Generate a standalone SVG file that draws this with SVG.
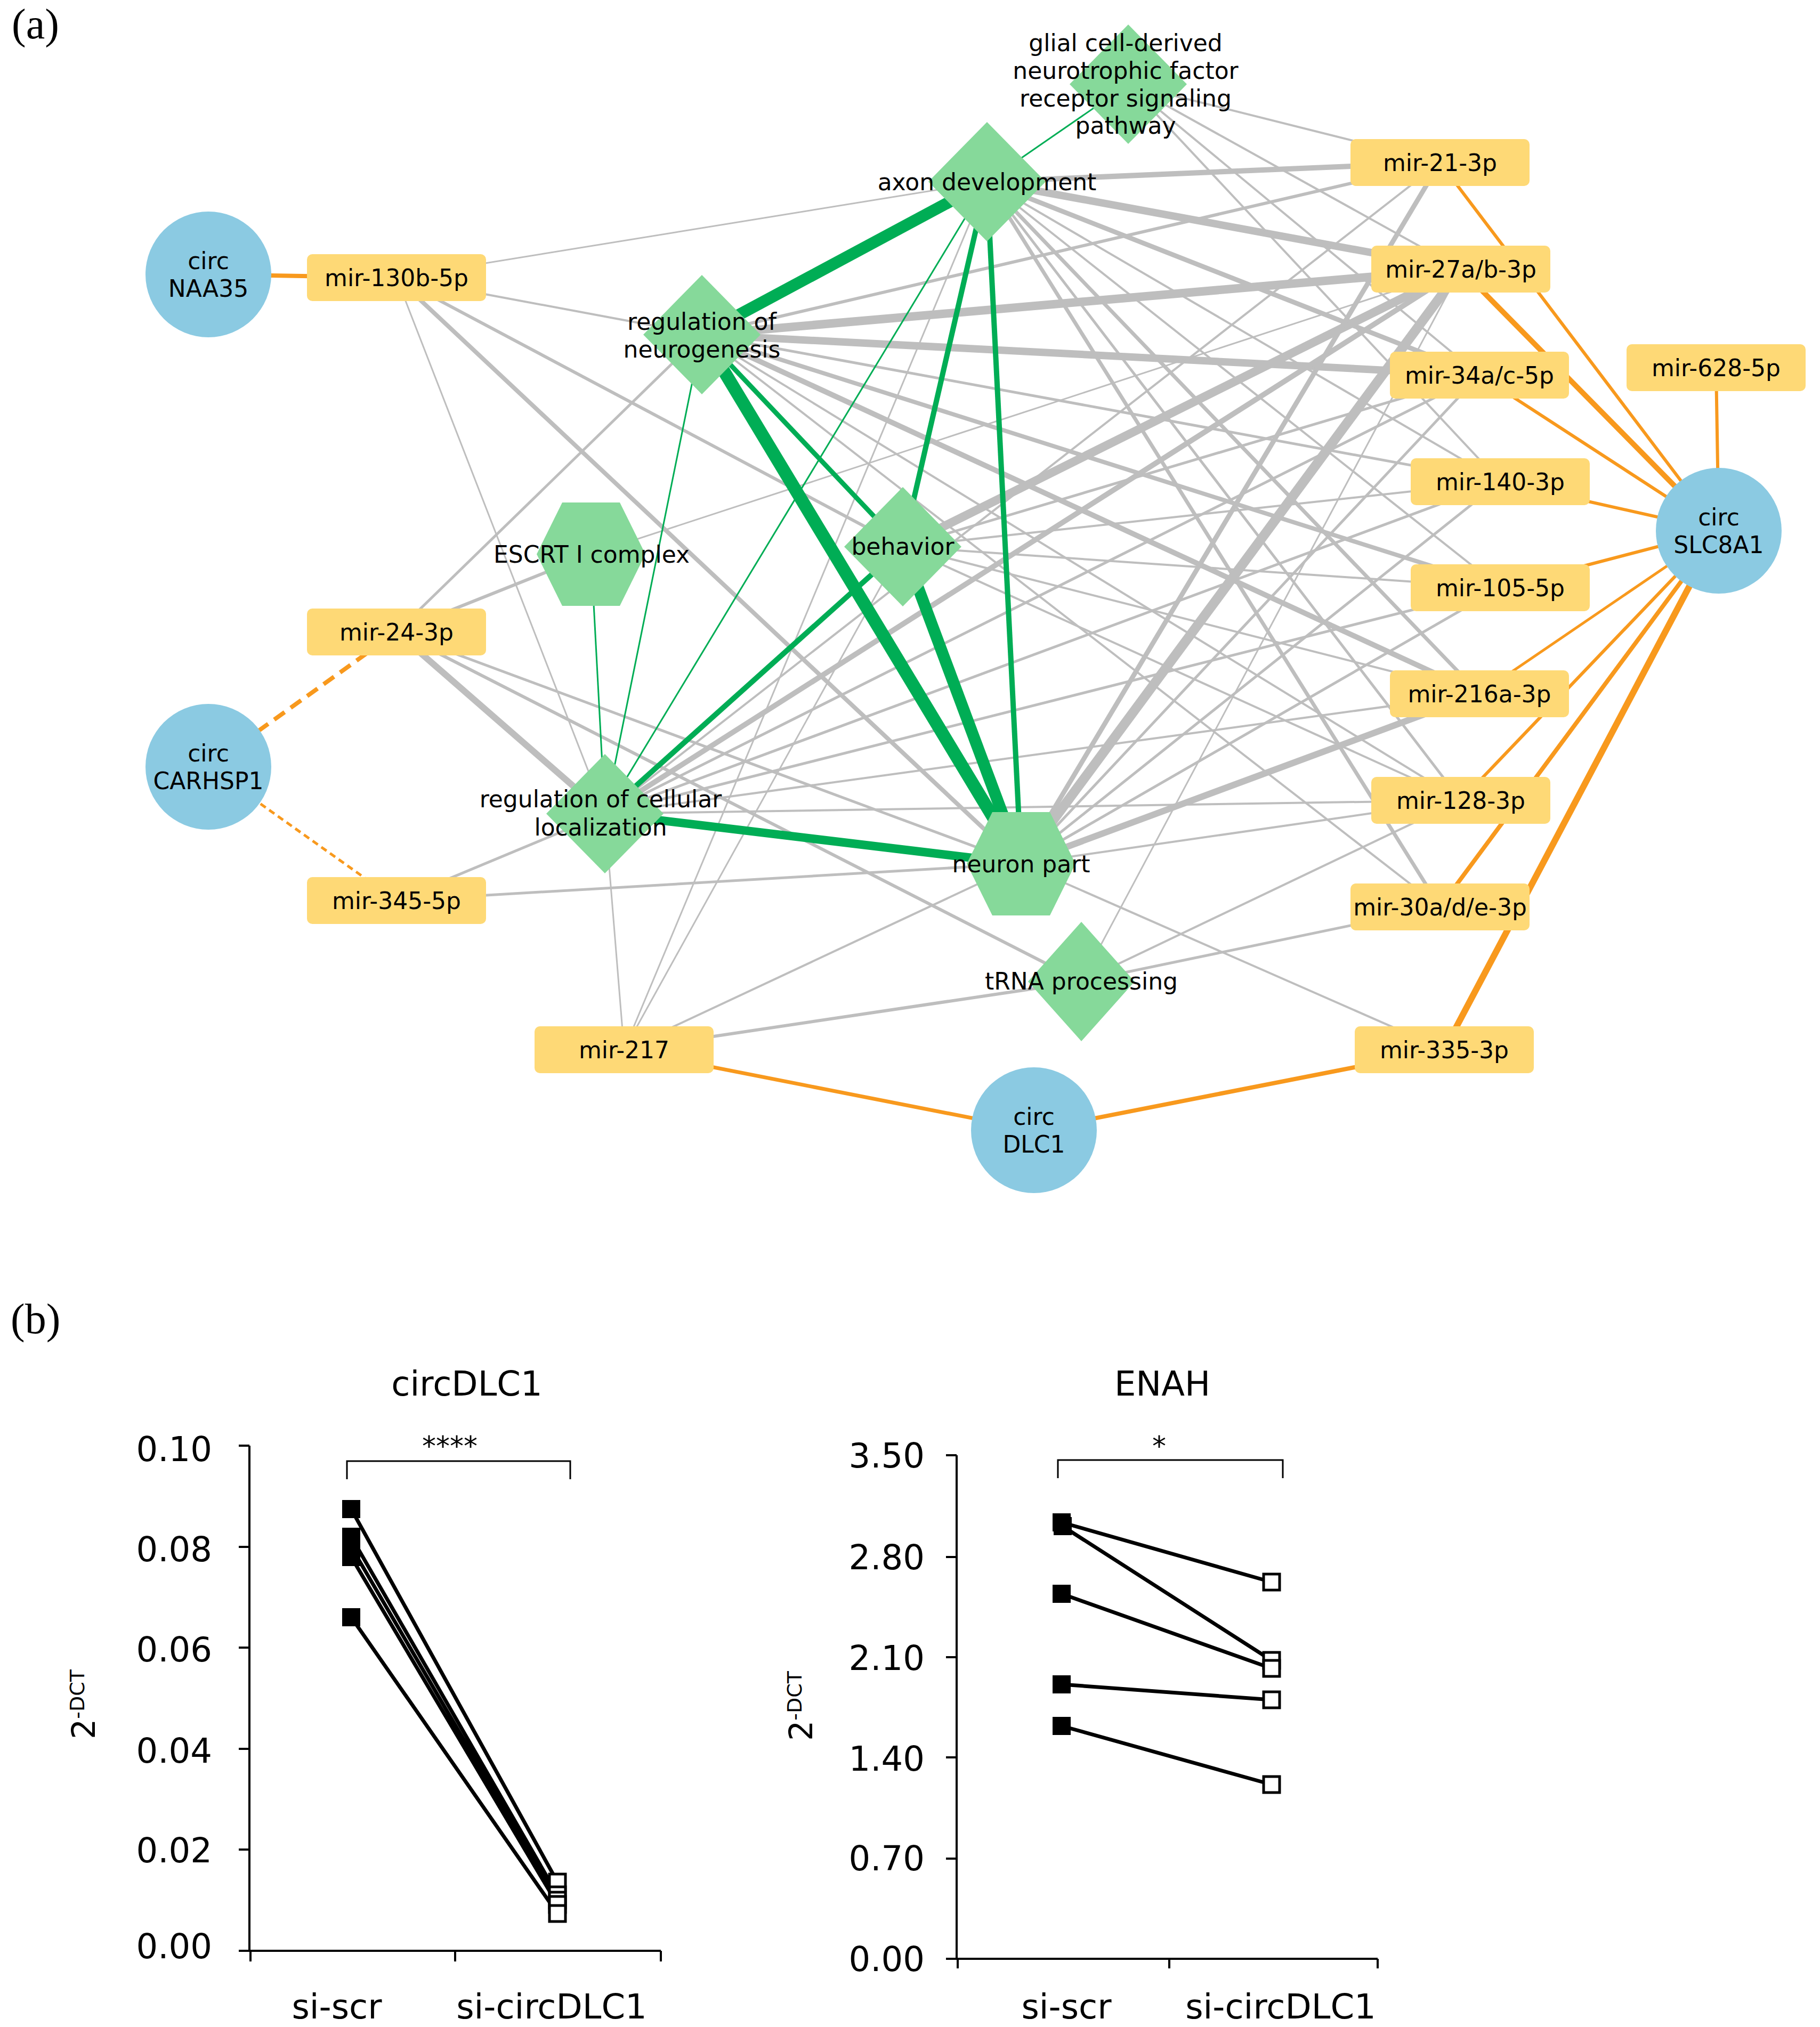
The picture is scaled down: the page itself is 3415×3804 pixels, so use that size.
<svg xmlns="http://www.w3.org/2000/svg" width="3415" height="3804" viewBox="0 0 3415 3804">
<style>
.g{stroke:#BEBEBE;fill:none}
.gr{stroke:#00AD55;fill:none}
.o{stroke:#F8991D;fill:none}
.circ{fill:#8BCAE2}
.mir{fill:#FED976}
.go{fill:#86D99A}
.lbl{font-family:"DejaVu Sans",sans-serif;font-size:44px;text-anchor:middle;fill:#000}
.ax{stroke:#000;stroke-width:4;fill:none}
.dl{stroke:#000;stroke-width:7;fill:none}
.ct{font-family:"DejaVu Sans",sans-serif;font-size:64px;fill:#000}
.yl{font-family:"DejaVu Sans",sans-serif;font-size:64px;fill:#000;text-anchor:end}
.pl{font-family:"Liberation Serif",serif;font-size:80px;fill:#000}
</style>
<rect width="3415" height="3804" fill="#fff"/>
<text class="pl" x="22" y="72">(a)</text>
<g id="connectors">
<g id="gray-edges" class="g">
<line x1="1852" y1="341" x2="744" y2="521" stroke-width="3"/>
<line x1="1852" y1="341" x2="2702" y2="305" stroke-width="10"/>
<line x1="1852" y1="341" x2="2741" y2="505" stroke-width="14"/>
<line x1="1852" y1="341" x2="2776" y2="704" stroke-width="9"/>
<line x1="1852" y1="341" x2="2815" y2="904" stroke-width="4"/>
<line x1="1852" y1="341" x2="2815" y2="1103" stroke-width="4"/>
<line x1="1852" y1="341" x2="2776" y2="1302" stroke-width="7"/>
<line x1="1852" y1="341" x2="2741" y2="1502" stroke-width="5"/>
<line x1="1852" y1="341" x2="2702" y2="1702" stroke-width="7"/>
<line x1="1852" y1="341" x2="1171" y2="1970" stroke-width="3"/>
<line x1="2117" y1="158" x2="2702" y2="305" stroke-width="4"/>
<line x1="2117" y1="158" x2="2741" y2="505" stroke-width="4"/>
<line x1="2117" y1="158" x2="2776" y2="704" stroke-width="4"/>
<line x1="2117" y1="158" x2="2815" y2="904" stroke-width="4"/>
<line x1="1317" y1="628" x2="744" y2="521" stroke-width="4"/>
<line x1="1317" y1="628" x2="2702" y2="305" stroke-width="6"/>
<line x1="1317" y1="628" x2="2741" y2="505" stroke-width="16"/>
<line x1="1317" y1="628" x2="2776" y2="704" stroke-width="14"/>
<line x1="1317" y1="628" x2="2815" y2="904" stroke-width="5"/>
<line x1="1317" y1="628" x2="2815" y2="1103" stroke-width="8"/>
<line x1="1317" y1="628" x2="2776" y2="1302" stroke-width="10"/>
<line x1="1317" y1="628" x2="2741" y2="1502" stroke-width="4"/>
<line x1="1317" y1="628" x2="2702" y2="1702" stroke-width="4"/>
<line x1="1317" y1="628" x2="744" y2="1186" stroke-width="5"/>
<line x1="1694" y1="1026" x2="744" y2="521" stroke-width="6"/>
<line x1="1694" y1="1026" x2="2741" y2="505" stroke-width="16"/>
<line x1="1694" y1="1026" x2="2776" y2="704" stroke-width="5"/>
<line x1="1694" y1="1026" x2="2815" y2="904" stroke-width="4"/>
<line x1="1694" y1="1026" x2="2815" y2="1103" stroke-width="4"/>
<line x1="1694" y1="1026" x2="2776" y2="1302" stroke-width="4"/>
<line x1="1694" y1="1026" x2="2741" y2="1502" stroke-width="4"/>
<line x1="1694" y1="1026" x2="1171" y2="1970" stroke-width="3"/>
<line x1="1109" y1="1040" x2="744" y2="1186" stroke-width="6"/>
<line x1="1109" y1="1040" x2="2741" y2="505" stroke-width="3"/>
<line x1="1135" y1="1527" x2="744" y2="521" stroke-width="3"/>
<line x1="1135" y1="1527" x2="744" y2="1186" stroke-width="12"/>
<line x1="1135" y1="1527" x2="744" y2="1690" stroke-width="5"/>
<line x1="1135" y1="1527" x2="1171" y2="1970" stroke-width="3"/>
<line x1="1135" y1="1527" x2="2741" y2="505" stroke-width="10"/>
<line x1="1135" y1="1527" x2="2776" y2="704" stroke-width="5"/>
<line x1="1135" y1="1527" x2="2702" y2="305" stroke-width="4"/>
<line x1="1135" y1="1527" x2="2815" y2="904" stroke-width="5"/>
<line x1="1135" y1="1527" x2="2815" y2="1103" stroke-width="5"/>
<line x1="1135" y1="1527" x2="2776" y2="1302" stroke-width="4"/>
<line x1="1135" y1="1527" x2="2741" y2="1502" stroke-width="4"/>
<line x1="1916" y1="1621" x2="744" y2="521" stroke-width="8"/>
<line x1="1916" y1="1621" x2="744" y2="1186" stroke-width="5"/>
<line x1="1916" y1="1621" x2="744" y2="1690" stroke-width="5"/>
<line x1="1916" y1="1621" x2="2741" y2="505" stroke-width="18"/>
<line x1="1916" y1="1621" x2="2702" y2="305" stroke-width="9"/>
<line x1="1916" y1="1621" x2="2776" y2="704" stroke-width="5"/>
<line x1="1916" y1="1621" x2="2815" y2="904" stroke-width="5"/>
<line x1="1916" y1="1621" x2="2815" y2="1103" stroke-width="5"/>
<line x1="1916" y1="1621" x2="2776" y2="1302" stroke-width="12"/>
<line x1="1916" y1="1621" x2="2741" y2="1502" stroke-width="4"/>
<line x1="1916" y1="1621" x2="2710" y2="1970" stroke-width="4"/>
<line x1="1916" y1="1621" x2="1171" y2="1970" stroke-width="4"/>
<line x1="2029" y1="1842" x2="1171" y2="1970" stroke-width="6"/>
<line x1="2029" y1="1842" x2="744" y2="1186" stroke-width="6"/>
<line x1="2029" y1="1842" x2="2702" y2="1702" stroke-width="5"/>
<line x1="2029" y1="1842" x2="2741" y2="1502" stroke-width="4"/>
<line x1="2029" y1="1842" x2="2741" y2="505" stroke-width="3"/>
</g>
<g id="green-edges" class="gr">
<line x1="1852" y1="341" x2="2117" y2="158" stroke-width="3"/>
<line x1="1852" y1="341" x2="1317" y2="628" stroke-width="22"/>
<line x1="1852" y1="341" x2="1694" y2="1026" stroke-width="10"/>
<line x1="1852" y1="341" x2="1916" y2="1621" stroke-width="10"/>
<line x1="1852" y1="341" x2="1135" y2="1527" stroke-width="3"/>
<line x1="1317" y1="628" x2="1694" y2="1026" stroke-width="9"/>
<line x1="1317" y1="628" x2="1916" y2="1621" stroke-width="24"/>
<line x1="1317" y1="628" x2="1135" y2="1527" stroke-width="3"/>
<line x1="1694" y1="1026" x2="1135" y2="1527" stroke-width="10"/>
<line x1="1694" y1="1026" x2="1916" y2="1621" stroke-width="22"/>
<line x1="1109" y1="1040" x2="1135" y2="1527" stroke-width="3"/>
<line x1="1135" y1="1527" x2="1916" y2="1621" stroke-width="16"/>
</g>
<g id="orange-edges" class="o">
<line x1="391" y1="515" x2="744" y2="521" stroke-width="8"/>
<line x1="391" y1="1439" x2="744" y2="1186" stroke-width="8" stroke-dasharray="24 14"/>
<line x1="391" y1="1439" x2="744" y2="1690" stroke-width="5" stroke-dasharray="12 8"/>
<line x1="3225" y1="996" x2="2702" y2="305" stroke-width="6"/>
<line x1="3225" y1="996" x2="2741" y2="505" stroke-width="10"/>
<line x1="3225" y1="996" x2="2776" y2="704" stroke-width="6"/>
<line x1="3225" y1="996" x2="3220" y2="690" stroke-width="6"/>
<line x1="3225" y1="996" x2="2815" y2="904" stroke-width="6"/>
<line x1="3225" y1="996" x2="2815" y2="1103" stroke-width="6"/>
<line x1="3225" y1="996" x2="2776" y2="1302" stroke-width="5"/>
<line x1="3225" y1="996" x2="2741" y2="1502" stroke-width="6"/>
<line x1="3225" y1="996" x2="2702" y2="1702" stroke-width="8"/>
<line x1="3225" y1="996" x2="2710" y2="1970" stroke-width="12"/>
<line x1="1940" y1="2121" x2="1171" y2="1970" stroke-width="7"/>
<line x1="1940" y1="2121" x2="2710" y2="1970" stroke-width="8"/>
</g>
</g>
<g id="node-glial"><polygon class="go" points="2117,46 2227,158 2117,270 2007,158"/><text class="lbl" x="2112" y="96">glial cell-derived</text><text class="lbl" x="2112" y="148">neurotrophic factor</text><text class="lbl" x="2112" y="200">receptor signaling</text><text class="lbl" x="2112" y="251">pathway</text></g>
<g id="node-axon"><polygon class="go" points="1852,229 1962,341 1852,453 1742,341"/><text class="lbl" x="1852" y="357">axon development</text></g>
<g id="node-regneuro"><polygon class="go" points="1317,516 1427,628 1317,740 1207,628"/><text class="lbl" x="1317" y="619">regulation of</text><text class="lbl" x="1317" y="671">neurogenesis</text></g>
<g id="node-behavior"><polygon class="go" points="1694,914 1804,1026 1694,1138 1584,1026"/><text class="lbl" x="1694" y="1041">behavior</text></g>
<g id="node-escrt"><polygon class="go" points="1007,1040 1055,943 1163,943 1211,1040 1163,1137 1055,1137"/><text class="lbl" x="1110" y="1056">ESCRT I complex</text></g>
<g id="node-regcell"><polygon class="go" points="1135,1415 1245,1527 1135,1639 1025,1527"/><text class="lbl" x="1127" y="1515">regulation of cellular</text><text class="lbl" x="1127" y="1568">localization</text></g>
<g id="node-neuronpart"><polygon class="go" points="1814,1621 1862,1524 1970,1524 2018,1621 1970,1718 1862,1718"/><text class="lbl" x="1916" y="1637">neuron part</text></g>
<g id="node-trna"><polygon class="go" points="2029,1730 2129,1842 2029,1954 1929,1842"/><text class="lbl" x="2029" y="1857">tRNA processing</text></g>
<g id="node-m130"><rect class="mir" x="576" y="477" width="336" height="88" rx="10"/><text class="lbl" x="744" y="537">mir-130b-5p</text></g>
<g id="node-m24"><rect class="mir" x="576" y="1142" width="336" height="88" rx="10"/><text class="lbl" x="744" y="1202">mir-24-3p</text></g>
<g id="node-m345"><rect class="mir" x="576" y="1646" width="336" height="88" rx="10"/><text class="lbl" x="744" y="1706">mir-345-5p</text></g>
<g id="node-m217"><rect class="mir" x="1003" y="1926" width="336" height="88" rx="10"/><text class="lbl" x="1171" y="1986">mir-217</text></g>
<g id="node-m21"><rect class="mir" x="2534" y="261" width="336" height="88" rx="10"/><text class="lbl" x="2702" y="321">mir-21-3p</text></g>
<g id="node-m27"><rect class="mir" x="2573" y="461" width="336" height="88" rx="10"/><text class="lbl" x="2741" y="521">mir-27a/b-3p</text></g>
<g id="node-m34"><rect class="mir" x="2608" y="660" width="336" height="88" rx="10"/><text class="lbl" x="2776" y="720">mir-34a/c-5p</text></g>
<g id="node-m628"><rect class="mir" x="3052" y="646" width="336" height="88" rx="10"/><text class="lbl" x="3220" y="706">mir-628-5p</text></g>
<g id="node-m140"><rect class="mir" x="2647" y="860" width="336" height="88" rx="10"/><text class="lbl" x="2815" y="920">mir-140-3p</text></g>
<g id="node-m105"><rect class="mir" x="2647" y="1059" width="336" height="88" rx="10"/><text class="lbl" x="2815" y="1119">mir-105-5p</text></g>
<g id="node-m216"><rect class="mir" x="2608" y="1258" width="336" height="88" rx="10"/><text class="lbl" x="2776" y="1318">mir-216a-3p</text></g>
<g id="node-m128"><rect class="mir" x="2573" y="1458" width="336" height="88" rx="10"/><text class="lbl" x="2741" y="1518">mir-128-3p</text></g>
<g id="node-m30"><rect class="mir" x="2534" y="1658" width="336" height="88" rx="10"/><text class="lbl" x="2702" y="1718">mir-30a/d/e-3p</text></g>
<g id="node-m335"><rect class="mir" x="2542" y="1926" width="336" height="88" rx="10"/><text class="lbl" x="2710" y="1986">mir-335-3p</text></g>
<g id="node-naa35"><circle class="circ" cx="391" cy="515" r="118"/><text class="lbl" x="391" y="505">circ</text><text class="lbl" x="391" y="557">NAA35</text></g>
<g id="node-carhsp1"><circle class="circ" cx="391" cy="1439" r="118"/><text class="lbl" x="391" y="1429">circ</text><text class="lbl" x="391" y="1481">CARHSP1</text></g>
<g id="node-slc8a1"><circle class="circ" cx="3225" cy="996" r="118"/><text class="lbl" x="3225" y="986">circ</text><text class="lbl" x="3225" y="1038">SLC8A1</text></g>
<g id="node-dlc1"><circle class="circ" cx="1940" cy="2121" r="118"/><text class="lbl" x="1940" y="2111">circ</text><text class="lbl" x="1940" y="2163">DLC1</text></g>

<text class="pl" x="20" y="2502">(b)</text>
<g id="chart-circDLC1">
<text class="ct" x="876" y="2619" text-anchor="middle">circDLC1</text>
<path class="ax" d="M468,2713 V3661 H1240 M448,2713 H468 M448,2903 H468 M448,3092 H468 M448,3282 H468 M448,3471 H468 M448,3661 H468 M470,3661 V3681 M854,3661 V3681 M1240,3661 V3681"/>
<text class="yl" x="398" y="2742">0.10</text>
<text class="yl" x="398" y="2930">0.08</text>
<text class="yl" x="398" y="3118">0.06</text>
<text class="yl" x="398" y="3308">0.04</text>
<text class="yl" x="398" y="3495">0.02</text>
<text class="yl" x="398" y="3675">0.00</text>
<text class="ct" x="632" y="3788" text-anchor="middle">si-scr</text>
<text class="ct" x="1035" y="3788" text-anchor="middle">si-circDLC1</text>
<text font-family="DejaVu Sans, sans-serif" font-size="60" transform="translate(178,3264) rotate(-90)">2<tspan font-size="38" dy="-20">-DCT</tspan></text>
<path d="M651,2776 V2742 H1070 V2776" stroke="#000" stroke-width="3" fill="none"/>
<text font-family="DejaVu Sans, sans-serif" font-size="52" x="844" y="2732" text-anchor="middle">****</text>
<path class="dl" d="M659,2832 L1046,3532 M659,2884 L1046,3556 M659,2903 L1046,3566 M659,2922 L1046,3574 M659,3035 L1046,3591"/>
<g fill="#000"><rect x="642" y="2815" width="34" height="34"/><rect x="642" y="2867" width="34" height="34"/><rect x="642" y="2886" width="34" height="34"/><rect x="642" y="2905" width="34" height="34"/><rect x="642" y="3018" width="34" height="34"/></g>
<g fill="#fff" stroke="#000" stroke-width="5"><rect x="1031" y="3517" width="30" height="30"/><rect x="1031" y="3541" width="30" height="30"/><rect x="1031" y="3551" width="30" height="30"/><rect x="1031" y="3559" width="30" height="30"/><rect x="1031" y="3576" width="30" height="30"/></g>
</g>
<g id="chart-ENAH">
<text class="ct" x="2181" y="2619" text-anchor="middle">ENAH</text>
<path class="ax" d="M1795,2731 V3676 H2585 M1775,2731 H1795 M1775,2922 H1795 M1775,3110 H1795 M1775,3298 H1795 M1775,3488 H1795 M1775,3676 H1795 M1797,3676 V3694 M2194,3676 V3694 M2585,3676 V3694"/>
<text class="yl" x="1735" y="2754">3.50</text>
<text class="yl" x="1735" y="2945">2.80</text>
<text class="yl" x="1735" y="3134">2.10</text>
<text class="yl" x="1735" y="3323">1.40</text>
<text class="yl" x="1735" y="3510">0.70</text>
<text class="yl" x="1735" y="3699">0.00</text>
<text class="ct" x="2001" y="3788" text-anchor="middle">si-scr</text>
<text class="ct" x="2403" y="3788" text-anchor="middle">si-circDLC1</text>
<text font-family="DejaVu Sans, sans-serif" font-size="60" transform="translate(1524,3267) rotate(-90)">2<tspan font-size="38" dy="-20">-DCT</tspan></text>
<path d="M1985,2774 V2740 H2407 V2774" stroke="#000" stroke-width="3" fill="none"/>
<text font-family="DejaVu Sans, sans-serif" font-size="52" x="2175" y="2732" text-anchor="middle">*</text>
<path class="dl" d="M1992,2857 L2386,2969 M1992,2863 L2386,3116 M1992,2991 L2386,3131 M1992,3161 L2386,3190 M1992,3239 L2386,3349"/>
<g fill="#000"><rect x="1975" y="2840" width="34" height="34"/><rect x="1977" y="2847" width="34" height="34"/><rect x="1975" y="2974" width="34" height="34"/><rect x="1975" y="3144" width="34" height="34"/><rect x="1975" y="3222" width="34" height="34"/></g>
<g fill="#fff" stroke="#000" stroke-width="5"><rect x="2371" y="2954" width="30" height="30"/><rect x="2371" y="3101" width="30" height="30"/><rect x="2371" y="3116" width="30" height="30"/><rect x="2371" y="3175" width="30" height="30"/><rect x="2371" y="3334" width="30" height="30"/></g>
</g>
</svg>
